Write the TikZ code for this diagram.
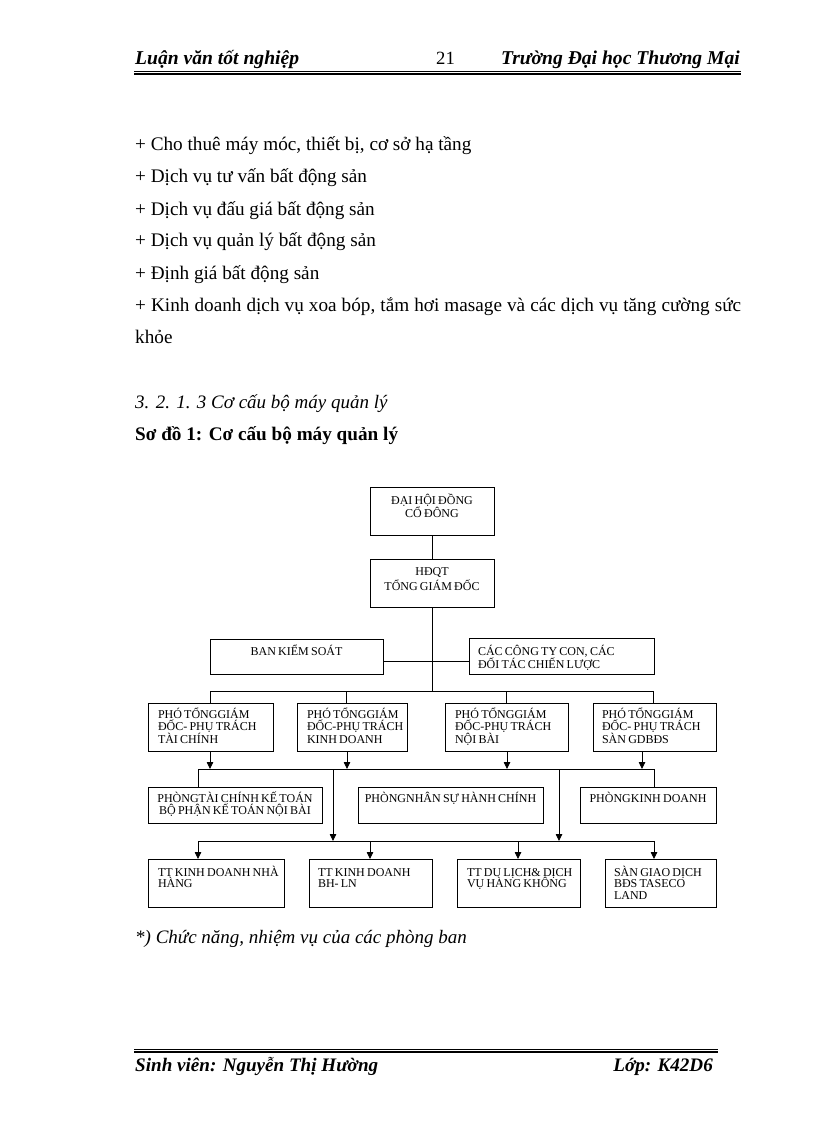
\documentclass[tikz,border=0pt]{standalone}
\usepackage{fontspec}
\setmainfont{Liberation Serif}
\newfontfamily\chartfont[WordSpace=0.75]{Liberation Serif}
\usetikzlibrary{arrows.meta,calc}
\newcommand{\bt}[6]{\parbox[c][#1][t]{#2}{\lineskiplimit=-100pt\baselineskip=#4\relax#5\rule{0pt}{#3}#6}}
\newcommand{\lft}{\raggedright\leftskip=10pt\relax}
\newcommand{\lftn}{\raggedright\leftskip=9pt\relax}
\tikzset{
  box/.style={draw, line width=0.8pt, inner sep=0pt, outer sep=0pt, anchor=north west,
    font=\chartfont\fontsize{12}{12.5}\selectfont},
  body/.style={inner sep=0pt, anchor=base west, font=\fontsize{19.2}{22}\selectfont},
  hdr/.style={inner sep=0pt, font=\bfseries\itshape\fontsize{19.6}{22}\selectfont},
  ftr/.style={inner sep=0pt, font=\bfseries\itshape\fontsize{19.1}{22}\selectfont},
  link/.style={line width=0.8pt},
  arr/.style={line width=0.8pt, -{Triangle[length=7pt,width=6.5pt]}},
}
\begin{document}
\begin{tikzpicture}[x=1pt,y=-1pt]
\fill[white] (0,0) rectangle (816,1123);
\useasboundingbox (0,0) rectangle (816,1123);

% header
\node[hdr, anchor=base west] (h1) at (135,65) {Luận văn tốt nghiệp};
\node[inner sep=0pt, anchor=base west, font=\fontsize{18.67}{22}\selectfont] (h2) at (436,65) {21};
\node[hdr, anchor=base east] (h3) at (740,65) {Trường Đại học Thương Mại};
\draw[line width=0.5pt] (134,71) -- (741,71);
\draw[line width=1.6pt] (134,73.8) -- (741,73.8);

% body text
\node[body] (t1) at (135,151) {+ Cho thuê máy móc, thiết bị, cơ sở hạ tầng};
\node[body] (t2) at (135,183) {+ Dịch vụ tư vấn bất động sản};
\node[body] (t3) at (135,215) {+ Dịch vụ đấu giá bất động sản};
\node[body] (t4) at (135,247) {+ Dịch vụ quản lý bất động sản};
\node[body] (t5) at (135,279) {+ Định giá bất động sản};
\node[body] (t6) at (135,311) {\makebox[606pt][s]{+ Kinh doanh dịch vụ xoa bóp, tắm hơi masage và các dịch vụ tăng cường sức}};
\node[body] (t7) at (135,343) {khỏe};
\node[body, font=\itshape\fontsize{19}{22}\selectfont] (t8) at (135,408) {3. 2. 1. 3 Cơ cấu bộ máy quản lý};
\node[body, font=\bfseries\fontsize{19.2}{22}\selectfont] (t9) at (135,440) {Sơ đồ 1: Cơ cấu bộ máy quản lý};

% chart boxes
\node[box] (dh) at (370,487) {\bt{48pt}{124pt}{17pt}{13pt}{\centering}{ĐẠI HỘI ĐỒNG\\CỔ ĐÔNG}};
\node[box] (hd) at (370,559) {\bt{48pt}{124pt}{16pt}{15pt}{\centering}{HĐQT\\TỔNG GIÁM ĐỐC}};
\node[box] (bks) at (210,639) {\bt{35pt}{173pt}{16pt}{13pt}{\centering}{BAN KIỂM SOÁT}};
\node[box] (cty) at (469,638) {\bt{36pt}{185pt}{17pt}{13pt}{\lftn}{CÁC CÔNG TY CON, CÁC\\ĐỐI TÁC CHIẾN LƯỢC}};

\node[box] (p1) at (148,703) {\bt{48pt}{125pt}{15pt}{12.5pt}{\lft}{PHÓ TỔNGGIÁM\\ĐỐC- PHỤ TRÁCH\\TÀI CHÍNH}};
\node[box] (p2) at (297,703) {\bt{48pt}{110pt}{15pt}{12.5pt}{\lft}{PHÓ TỔNGGIÁM\\ĐỐC-PHỤ TRÁCH\\KINH DOANH}};
\node[box] (p3) at (445,703) {\bt{48pt}{123pt}{15pt}{12.5pt}{\lft}{PHÓ TỔNGGIÁM\\ĐỐC-PHỤ TRÁCH\\NỘI BÀI}};
\node[box] (p4) at (593,703) {\bt{48pt}{123pt}{15pt}{12.5pt}{\lftn}{PHÓ TỔNGGIÁM\\ĐỐC- PHỤ TRÁCH\\SÀN GDBĐS}};

\node[box] (ptc) at (148,787) {\bt{36pt}{174pt}{15.5pt}{11.5pt}{\centering}{PHÒNGTÀI CHÍNH KẾ TOÁN\\BỘ PHẬN KẾ TOÁN NỘI BÀI}};
\node[box] (pns) at (358,787) {\bt{36pt}{185pt}{15.5pt}{11.5pt}{\centering}{PHÒNGNHÂN SỰ HÀNH CHÍNH}};
\node[box] (pkd) at (580,787) {\bt{36pt}{136pt}{15.5pt}{11.5pt}{\centering}{PHÒNGKINH DOANH}};

\node[box] (tt1) at (148,859) {\bt{48pt}{136pt}{17pt}{11.5pt}{\lft}{TT KINH DOANH NHÀ\\HÀNG}};
\node[box] (tt2) at (309,859) {\bt{48pt}{123pt}{17pt}{11.5pt}{\lftn}{TT KINH DOANH\\BH- LN}};
\node[box] (tt3) at (457,859) {\bt{48pt}{123pt}{17pt}{11.5pt}{\lft}{TT DU LỊCH\& DỊCH\\VỤ HÀNG KHÔNG}};
\node[box] (tt4) at (605,859) {\bt{48pt}{111pt}{17pt}{11.5pt}{\lftn}{SÀN GIAO DỊCH\\BĐS TASECO\\LAND}};

% bus coordinates
\coordinate (b1) at (432,691);
\coordinate (b1l) at (210,691);
\coordinate (b1a) at (346,691);
\coordinate (b1b) at (506,691);
\coordinate (b1r) at (653,691);
\coordinate (b2l) at (198,769);
\coordinate (b2r) at (654,769);
\coordinate (a1) at (210,769);
\coordinate (a2) at (347,769);
\coordinate (a3) at (507,769);
\coordinate (a4) at (642,769);
\coordinate (v1) at (333,769);
\coordinate (v2) at (559,769);
\coordinate (b3l) at (198,841);
\coordinate (b3r) at (654,841);
\coordinate (c2) at (370,841);
\coordinate (c3) at (518,841);

% connectors
\draw[link] (dh.south) -- (hd.north);
\draw[link] (hd.south) -- (b1);
\draw[link] ([yshift=-4.5pt]bks.east) -- ([yshift=-5pt]cty.west);
\draw[link] (b1l) -- (b1r);
\draw[link] (b1l) -- (b1l |- p1.north);
\draw[link] (b1a) -- (b1a |- p2.north);
\draw[link] (b1b) -- (b1b |- p3.north);
\draw[link] (b1r) -- (b1r |- p4.north);

\draw[arr] (a1 |- p1.south) -- (a1);
\draw[arr] (a2 |- p2.south) -- (a2);
\draw[arr] (a3 |- p3.south) -- (a3);
\draw[arr] (a4 |- p4.south) -- (a4);

\draw[link] (b2l) -- (b2r);
\draw[link] (b2l) -- (b2l |- ptc.north);
\draw[link] (b2r) -- (b2r |- pkd.north);
\draw[arr] (v1) -- (v1 |- b3l);
\draw[arr] (v2) -- (v2 |- b3l);

\draw[link] (b3l) -- (b3r);
\draw[arr] (b3l) -- (b3l |- tt1.north);
\draw[arr] (c2) -- (c2 |- tt2.north);
\draw[arr] (c3) -- (c3 |- tt3.north);
\draw[arr] (b3r) -- (b3r |- tt4.north);

% after chart
\node[body, font=\itshape\fontsize{19}{22}\selectfont] (t10) at (135,943) {*) Chức năng, nhiệm vụ của các phòng ban};

% footer
\draw[line width=0.5pt] (134,1049.3) -- (718,1049.3);
\draw[line width=1.2pt] (134,1052) -- (718,1052);
\node[ftr, anchor=base west] (f1) at (135,1071) {Sinh viên: Nguyễn Thị Hường};
\node[ftr, anchor=base east] (f2) at (713,1071) {Lớp: K42D6};
\end{tikzpicture}
\end{document}
